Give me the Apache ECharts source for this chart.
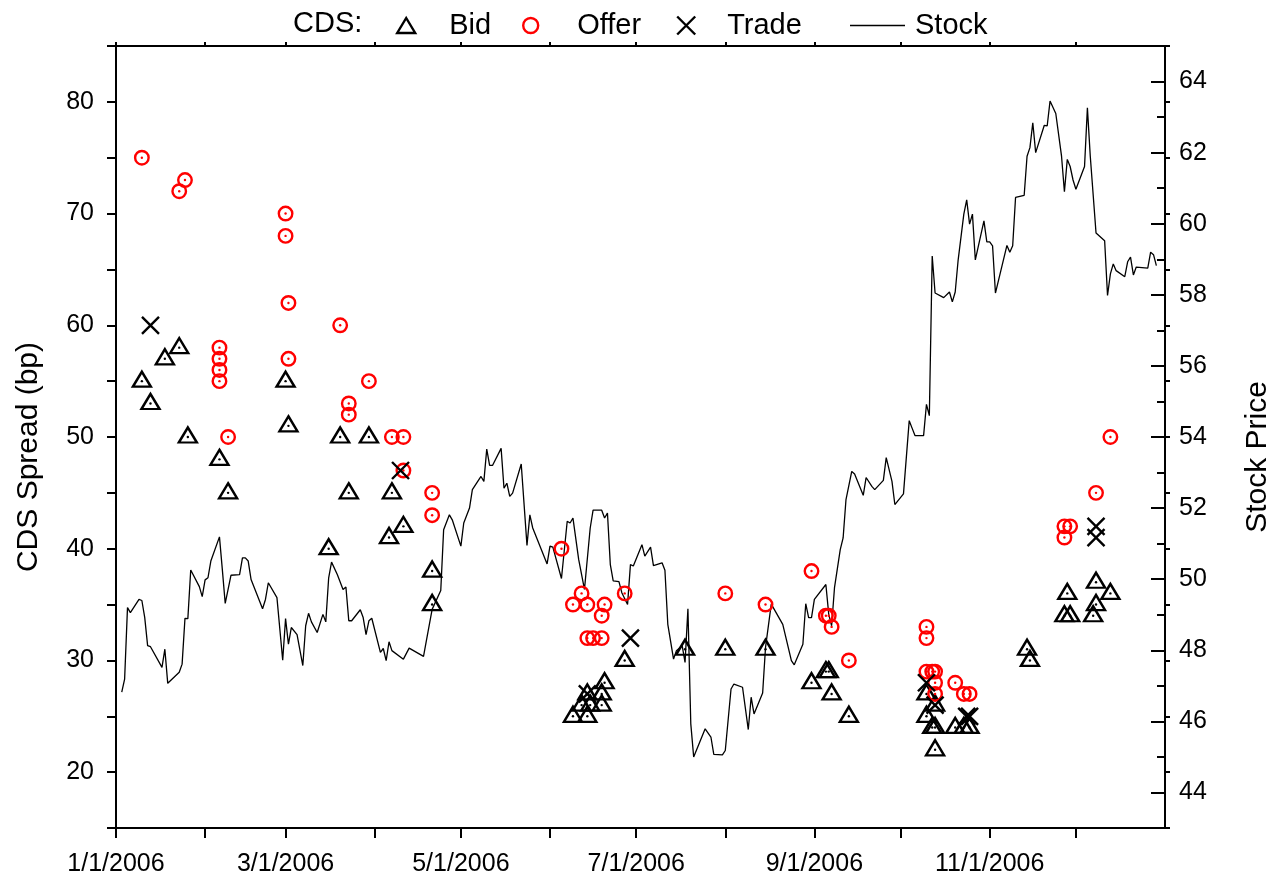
<!DOCTYPE html>
<html>
<head>
<meta charset="utf-8">
<script src="https://cdn.jsdelivr.net/npm/echarts@6/dist/echarts.min.js"></script>
<style>html,body{margin:0;padding:0;background:#fff}#c{width:1278px;height:884px}</style>
</head>
<body>
<div id="c"></div>
<script>
// ---- Stock price (right axis) ----
const stockDates = [
'2006-01-03','2006-01-04','2006-01-05','2006-01-06','2006-01-09','2006-01-10','2006-01-11','2006-01-12','2006-01-13','2006-01-17',
'2006-01-18','2006-01-19','2006-01-23','2006-01-24','2006-01-25','2006-01-26','2006-01-27','2006-01-30','2006-01-31','2006-02-01',
'2006-02-02','2006-02-03','2006-02-06','2006-02-07','2006-02-08','2006-02-10','2006-02-13','2006-02-14','2006-02-15','2006-02-16',
'2006-02-17','2006-02-21','2006-02-22','2006-02-23','2006-02-26','2006-02-28','2006-03-01','2006-03-02','2006-03-03','2006-03-05',
'2006-03-07','2006-03-08','2006-03-09','2006-03-10','2006-03-12','2006-03-14','2006-03-15','2006-03-16','2006-03-17','2006-03-19',
'2006-03-21','2006-03-22','2006-03-23','2006-03-24','2006-03-27','2006-03-28','2006-03-29','2006-03-30','2006-03-31','2006-04-03',
'2006-04-04','2006-04-05','2006-04-06','2006-04-07','2006-04-11','2006-04-13','2006-04-18','2006-04-19','2006-04-21','2006-04-24',
'2006-04-25','2006-04-27','2006-04-28','2006-05-01','2006-05-02','2006-05-04','2006-05-05','2006-05-08','2006-05-09','2006-05-10',
'2006-05-11','2006-05-12','2006-05-15','2006-05-16','2006-05-17','2006-05-18','2006-05-19','2006-05-22','2006-05-24','2006-05-25',
'2006-05-26','2006-05-31','2006-06-01','2006-06-02','2006-06-05','2006-06-07','2006-06-08','2006-06-09','2006-06-11','2006-06-13',
'2006-06-15','2006-06-16','2006-06-19','2006-06-20','2006-06-21','2006-06-22','2006-06-23','2006-06-25','2006-06-26','2006-06-28',
'2006-06-29','2006-06-30','2006-07-03','2006-07-04','2006-07-06','2006-07-07','2006-07-10','2006-07-11','2006-07-12','2006-07-14',
'2006-07-15','2006-07-17','2006-07-18','2006-07-19','2006-07-20','2006-07-21','2006-07-25','2006-07-27','2006-07-28','2006-07-31',
'2006-08-01','2006-08-03','2006-08-04','2006-08-07','2006-08-09','2006-08-10','2006-08-11','2006-08-14','2006-08-15','2006-08-17',
'2006-08-21','2006-08-24','2006-08-25','2006-08-28','2006-08-29','2006-08-30','2006-08-31','2006-09-01','2006-09-05','2006-09-06',
'2006-09-07','2006-09-08','2006-09-10','2006-09-11','2006-09-12','2006-09-14','2006-09-15','2006-09-18','2006-09-19','2006-09-21',
'2006-09-22','2006-09-25','2006-09-26','2006-09-28','2006-09-29','2006-10-02','2006-10-04','2006-10-05','2006-10-06','2006-10-09',
'2006-10-10','2006-10-11','2006-10-12','2006-10-13','2006-10-16','2006-10-18','2006-10-19','2006-10-20','2006-10-21','2006-10-23',
'2006-10-24','2006-10-25','2006-10-26','2006-10-27','2006-10-30','2006-10-31','2006-11-01','2006-11-02','2006-11-03','2006-11-07',
'2006-11-08','2006-11-09','2006-11-10','2006-11-13','2006-11-14','2006-11-15','2006-11-16','2006-11-17','2006-11-20','2006-11-21',
'2006-11-22','2006-11-24','2006-11-26','2006-11-27','2006-11-28','2006-11-29','2006-11-30','2006-12-01','2006-12-04','2006-12-05',
'2006-12-06','2006-12-08','2006-12-11','2006-12-12','2006-12-13','2006-12-14','2006-12-15','2006-12-18','2006-12-19','2006-12-20',
'2006-12-21','2006-12-22','2006-12-26','2006-12-27','2006-12-28','2006-12-29'
];
const stockPrices = [
46.82,47.19,49.20,49.06,49.43,49.40,48.92,48.13,48.10,47.52,
48.03,47.07,47.38,47.61,48.90,48.89,50.26,49.79,49.51,49.98,
50.04,50.51,51.19,50.27,49.32,50.11,50.13,50.60,50.60,50.51,
49.99,49.17,49.43,49.90,49.48,47.72,48.89,48.17,48.64,48.44,
47.57,48.69,49.04,48.80,48.50,49.01,48.80,50.04,50.48,50.13,
49.71,49.78,48.83,48.83,49.14,48.92,48.44,48.83,48.90,47.94,
48.05,47.71,48.24,47.99,47.75,48.06,47.83,48.27,49.15,49.68,
51.39,51.81,51.67,50.93,51.58,52.00,52.52,52.89,52.75,53.66,
53.20,53.20,53.68,52.56,52.70,52.33,52.42,53.24,50.95,51.81,
51.44,50.43,50.93,50.90,50.02,51.63,51.58,51.72,50.55,49.71,
51.44,51.94,51.94,51.72,51.86,50.41,49.95,49.93,49.62,49.29,
50.41,50.37,50.97,50.65,50.90,50.38,50.46,50.25,48.73,47.75,
47.99,48.13,47.66,49.17,45.93,45.00,45.79,45.56,45.07,45.06,
45.18,46.91,47.05,46.96,45.77,46.68,46.21,46.80,48.08,49.30,
48.73,47.71,47.59,48.17,49.31,48.92,48.92,49.43,49.85,49.01,
48.69,49.76,50.83,51.16,52.24,53.03,52.96,52.36,52.86,52.61,
52.52,52.78,53.42,52.75,52.10,52.40,54.46,54.25,54.04,54.04,
54.92,54.60,59.09,58.05,57.92,58.08,57.80,58.08,58.96,60.27,
60.67,59.99,60.27,58.98,60.08,59.49,59.49,59.38,58.05,59.39,
59.20,59.38,60.74,60.80,61.90,62.14,62.84,62.00,62.77,62.75,
63.45,63.10,61.90,60.90,61.81,61.61,61.23,60.97,61.61,63.26,
61.90,59.74,59.52,57.98,58.59,58.87,58.68,58.51,58.93,59.06,
58.56,58.78,58.75,59.20,59.13,58.82
];

// ---- CDS quotes (left axis, bp) ----
const bidDates = ['2006-01-10','2006-01-13','2006-01-18','2006-01-23','2006-01-26','2006-02-06','2006-02-09',
  '2006-03-01','2006-03-02','2006-03-16','2006-03-20','2006-03-23','2006-03-30','2006-04-06','2006-04-07','2006-04-11','2006-04-21','2006-04-21',
  '2006-06-09','2006-06-14','2006-06-12','2006-06-15','2006-06-19','2006-06-14','2006-06-19','2006-06-20','2006-06-27',
  '2006-07-18','2006-08-01','2006-08-15','2006-08-31','2006-09-05','2006-09-06','2006-09-07','2006-09-13',
  '2006-10-10','2006-10-10','2006-10-13','2006-10-12','2006-10-13','2006-10-13','2006-10-20','2006-10-23','2006-10-25',
  '2006-11-14','2006-11-15','2006-11-27','2006-11-29','2006-11-28','2006-12-07','2006-12-08','2006-12-08','2006-12-13'];
const bidValues = [55,53,57,58,50,48,45,
  55,51,40,50,45,50,41,45,42,38,35,
  25,25,26,26,26,27,27,28,30,
  31,31,31,28,29,29,27,25,
  27,25,26,24,24,22,24,24,24,
  31,30,34,34,36,34,35,37,36];

const offerDates = ['2006-01-10','2006-01-23','2006-01-25','2006-02-06','2006-02-06','2006-02-06','2006-02-06','2006-02-09',
  '2006-03-01','2006-03-01','2006-03-02','2006-03-02','2006-03-20','2006-03-23','2006-03-23','2006-03-30','2006-04-07','2006-04-11','2006-04-11','2006-04-21','2006-04-21',
  '2006-06-05','2006-06-12','2006-06-09','2006-06-14','2006-06-20','2006-06-19','2006-06-14','2006-06-16','2006-06-19','2006-06-27',
  '2006-08-01','2006-08-15','2006-08-31','2006-09-05','2006-09-06','2006-09-07','2006-09-13',
  '2006-10-10','2006-10-10','2006-10-10','2006-10-12','2006-10-13','2006-10-13','2006-10-13','2006-10-20','2006-10-23','2006-10-25',
  '2006-11-27','2006-11-27','2006-11-29','2006-12-08','2006-12-13'];
const offerValues = [75,72,73,58,57,56,55,50,
  70,68,62,57,60,53,52,55,50,50,47,45,43,
  40,36,35,35,35,34,32,32,32,36,
  36,35,38,34,34,33,30,
  33,32,29,29,29,28,27,28,27,27,
  41,42,42,45,50];

const tradeDates = ['2006-01-13','2006-04-10','2006-06-14','2006-06-29','2006-10-10','2006-10-13','2006-10-24','2006-10-25','2006-12-08','2006-12-08'];
const tradeValues = [60,47,27,32,28,26,25,25,42,41];

// ---- axis ticks / labels ----
const dateRange = ['2006-01-01', '2007-01-01'];
const dateLabels = ['2006-01-01','2006-03-01','2006-05-01','2006-07-01','2006-09-01','2006-11-01'];
const monthTicks = ['2006-01-01','2006-02-01','2006-03-01','2006-04-01','2006-05-01','2006-06-01','2006-07-01','2006-08-01','2006-09-01','2006-10-01','2006-11-01','2006-12-01'];
const cdsLabels = [20,30,40,50,60,70,80];
const cdsTicks = [15,20,25,30,35,40,45,50,55,60,65,70,75,80,85];
const priceLabels = [44,46,48,50,52,54,56,58,60,62,64];
const priceMinorTicks = [43,45,47,49,51,53,55,57,59,61,63,65];

const ts = s => +echarts.time.parse(s);
const zip = (a, b) => a.map((d, i) => [ts(d), b[i]]);
const FONT = "'Liberation Sans', Arial, Helvetica, sans-serif";
const fmtDate = v => { const d = new Date(v); return (d.getMonth() + 1) + '/' + d.getDate() + '/' + d.getFullYear(); };

const chart = echarts.init(document.getElementById('c'), null, { renderer: 'canvas' });
const lineW = 2;
const MW = 2.4; // marker stroke
const baseY = {
  type: 'value', splitLine: { show: false }, axisLine: { show: false },
  axisTick: { show: false }, axisLabel: { show: false }
};
const legendText = gap => ({
  fontSize: 29, fontFamily: FONT, color: '#000',
  rich: { g: { width: gap, fontSize: 29 }, t: { fontSize: 29, fontFamily: FONT, color: '#000' } }
});
const option = {
  backgroundColor: '#fff',
  animation: false,
  textStyle: { fontFamily: FONT, color: '#000' },
  title: { text: 'CDS:', left: 293, top: 9, padding: 0,
    textStyle: { fontSize: 29, fontWeight: 'normal', fontFamily: FONT, color: '#000' } },
  legend: [
    { data: ['Bid'], left: 391, top: 6, itemWidth: 18, itemHeight: 15, icon: 'triangle', selectedMode: false,
      formatter: n => '{g|}{t|' + n + '}',
      itemStyle: { color: 'rgba(0,0,0,0)', borderColor: '#000', borderWidth: MW, opacity: 1 },
      textStyle: legendText(29) },
    { data: ['Offer'], left: 517, top: 6, itemWidth: 15, itemHeight: 15, icon: 'circle', selectedMode: false,
      formatter: n => '{g|}{t|' + n + '}',
      itemStyle: { color: 'rgba(0,0,0,0)', borderColor: '#ff0000', borderWidth: MW, opacity: 1 },
      textStyle: legendText(34) },
    { data: ['Trade'], left: 671, top: 6, itemWidth: 18, itemHeight: 18, icon: 'path://M0,0L10,10M10,0L0,10', selectedMode: false,
      formatter: n => '{g|}{t|' + n + '}',
      itemStyle: { color: 'rgba(0,0,0,0)', borderColor: '#000', borderWidth: MW, opacity: 1 },
      textStyle: legendText(27) },
    { data: ['Stock'], left: 845, top: 6, itemWidth: 55, itemHeight: 1.5, icon: 'rect', selectedMode: false,
      formatter: n => '{g|}{t|' + n + '}',
      itemStyle: { color: '#000', borderWidth: 0, opacity: 1 },
      textStyle: legendText(5) }
  ],
  grid: { left: 116, right: 113, top: 46, bottom: 56, containLabel: false, outerBoundsMode: 'none' },
  xAxis: [
    { type: 'value', position: 'bottom', min: ts(dateRange[0]), max: ts(dateRange[1]),
      splitLine: { show: false },
      axisLine: { show: true, onZero: false, lineStyle: { color: '#000', width: lineW } },
      axisTick: { show: true, inside: false, length: 10, customValues: monthTicks.map(ts), lineStyle: { color: '#000', width: lineW } },
      axisLabel: { show: true, customValues: dateLabels.map(ts), formatter: v => fmtDate(v), fontSize: 25, color: '#000', fontFamily: FONT, margin: 24 }
    },
    { type: 'value', position: 'top', min: ts(dateRange[0]), max: ts(dateRange[1]),
      splitLine: { show: false },
      axisLine: { show: true, onZero: false, lineStyle: { color: '#000', width: lineW } },
      axisTick: { show: true, inside: false, length: 4, customValues: monthTicks.map(ts), lineStyle: { color: '#000', width: lineW } },
      axisLabel: { show: false }
    }
  ],
  yAxis: [
    { type: 'value', position: 'left', min: 15, max: 85,
      name: 'CDS Spread (bp)', nameLocation: 'middle', nameGap: 72, nameRotate: 90,
      nameTextStyle: { fontSize: 30, color: '#000', fontFamily: FONT, padding: [0, 40, 0, 0] },
      splitLine: { show: false },
      axisLine: { show: true, onZero: false, lineStyle: { color: '#000', width: lineW } },
      axisTick: { show: true, inside: false, length: 9, customValues: cdsTicks, lineStyle: { color: '#000', width: lineW } },
      axisLabel: { show: true, customValues: cdsLabels, fontSize: 25, color: '#000', fontFamily: FONT, margin: 22 }
    },
    { type: 'value', position: 'right', min: 43, max: 65,
      name: 'Stock Price', nameLocation: 'middle', nameGap: 78, nameRotate: 90,
      nameTextStyle: { fontSize: 30, color: '#000', fontFamily: FONT, padding: [0, 40, 0, 0] },
      splitLine: { show: false },
      axisLine: { show: true, onZero: false, lineStyle: { color: '#000', width: lineW } },
      axisTick: { show: true, inside: true, length: 14, customValues: priceLabels, lineStyle: { color: '#000', width: lineW } },
      axisLabel: { show: true, customValues: priceLabels, fontSize: 25, color: '#000', fontFamily: FONT, margin: 14 }
    },
    Object.assign({}, baseY, { position: 'right', min: 43, max: 65,
      axisTick: { show: true, inside: true, length: 8, customValues: priceMinorTicks, lineStyle: { color: '#000', width: lineW } } }),
    Object.assign({}, baseY, { position: 'right', min: 15, max: 85,
      axisTick: { show: true, inside: false, length: 5, customValues: cdsTicks, lineStyle: { color: '#000', width: lineW } } })
  ],
  series: [
    { name: 'Stock', type: 'line', xAxisIndex: 0, yAxisIndex: 1, data: zip(stockDates, stockPrices),
      symbol: 'none', showSymbol: false, lineStyle: { color: '#000', width: 1.3 }, itemStyle: { color: '#000' }, z: 2 },
    { name: 'Bid', type: 'scatter', xAxisIndex: 0, yAxisIndex: 0, data: zip(bidDates, bidValues),
      symbol: 'triangle', symbolSize: [18, 15], symbolOffset: [0, -2],
      itemStyle: { color: 'rgba(0,0,0,0)', borderColor: '#000', borderWidth: MW, opacity: 1 }, z: 3 },
    { name: 'BidDot', type: 'scatter', xAxisIndex: 0, yAxisIndex: 0, data: zip(bidDates, bidValues),
      symbol: 'circle', symbolSize: 2.4, itemStyle: { color: '#000', opacity: 1 }, silent: true, z: 3 },
    { name: 'Offer', type: 'scatter', xAxisIndex: 0, yAxisIndex: 0, data: zip(offerDates, offerValues),
      symbol: 'circle', symbolSize: 13.5,
      itemStyle: { color: 'rgba(0,0,0,0)', borderColor: '#ff0000', borderWidth: MW, opacity: 1 }, z: 3 },
    { name: 'OfferDot', type: 'scatter', xAxisIndex: 0, yAxisIndex: 0, data: zip(offerDates, offerValues),
      symbol: 'circle', symbolSize: 2.4, itemStyle: { color: '#ff0000', opacity: 1 }, silent: true, z: 3 },
    { name: 'Trade', type: 'scatter', xAxisIndex: 0, yAxisIndex: 0, data: zip(tradeDates, tradeValues),
      symbol: 'path://M0,0L10,10M10,0L0,10', symbolSize: 17,
      itemStyle: { color: 'rgba(0,0,0,0)', borderColor: '#000', borderWidth: MW, opacity: 1 }, z: 4 }
  ]
};
chart.setOption(option);
</script>
</body>
</html>
